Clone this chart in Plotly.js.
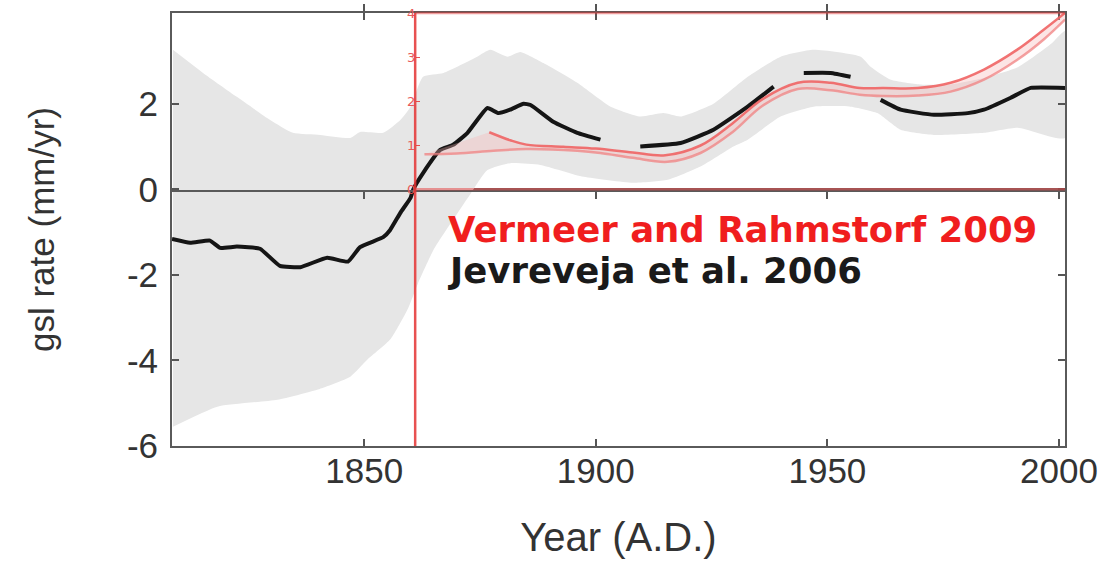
<!DOCTYPE html>
<html><head><meta charset="utf-8">
<script src="https://cdn.plot.ly/plotly-3.0.1.min.js"></script>
<style>html,body{margin:0;padding:0;background:#fff}#chart{width:1106px;height:563px}</style>
</head><body><div id="chart"></div>
<script>
// Jevrejeva et al. 2006 — uncertainty band (mm/yr)
const bandUpperYears = [1808.7,1815.2,1822.5,1829.7,1834.6,1840.5,1847,1849.1,1854.1,1857.8,1860,1862.7,1867.1,1874.4,1877.2,1880.9,1883.7,1888.7,1896,1903.2,1909.6,1914.6,1918.3,1925.4,1932.8,1939.9,1947,1957.2,1959.4,1963.7,1970,1976.6,1983.8,1991.1,1998.3,2001.3];
const bandUpperVals  = [3.26,2.72,2.16,1.62,1.32,1.27,1.2,1.34,1.32,1.62,1.93,2.63,2.72,3.1,3.26,3.1,3.21,2.95,2.49,1.93,1.7,1.78,1.7,2.0,2.63,3.1,3.26,3.1,2.86,2.56,2.45,2.45,2.6,2.85,3.4,3.7];
const bandLowerYears = [1808.7,1818.3,1831.3,1840,1847,1850.7,1855.7,1859.4,1861.6,1865,1870.2,1873,1876.6,1881.5,1888,1897.4,1908,1915.5,1922.6,1929.7,1932.8,1939.9,1947,1955,1960.8,1965.8,1973,1983.8,1991.1,2001.3];
const bandLowerVals  = [-5.55,-5.08,-4.92,-4.68,-4.38,-3.98,-3.5,-2.8,-2.2,-1.41,-0.55,-0.1,0.45,0.61,0.57,0.29,0.15,0.22,0.53,1.0,1.16,1.7,1.93,1.93,1.78,1.39,1.27,1.32,1.44,1.2];

// Jevrejeva et al. 2006 — gsl rate (mm/yr); null = where the curve is not visible
const jevYears = [1808.5,1812.4,1816.7,1818.9,1822.5,1827.5,1831.8,1836.2,1842,1846.5,1849.1,1854.1,1855.6,1857.8,1860,1860.6,1862.7,1866.4,1869.2,1872.3,1876.6,1879,1881.5,1884.4,1885.9,1890.8,1896,1901,1905,1909.6,1918.3,1925.4,1932.8,1938.4,1941,1944.9,1950.7,1955,1958,1961.5,1965.8,1973,1980.3,1983.8,1989.6,1993.9,2001.3];
const jevVals  = [-1.16,-1.25,-1.2,-1.37,-1.34,-1.39,-1.79,-1.82,-1.6,-1.69,-1.35,-1.12,-0.95,-0.55,-0.2,0,0.38,0.92,1.04,1.32,1.9,1.78,1.86,2.0,1.97,1.58,1.32,1.16,null,1.0,1.08,1.39,1.93,2.4,null,2.72,2.72,2.63,null,2.09,1.86,1.74,1.78,1.86,2.14,2.37,2.37];

// Vermeer and Rahmstorf 2009 — inset scale (mm/yr), two edges of the band
const vrUpperYears = [1877,1881.5,1885,1893,1900,1908,1915,1922.6,1929.5,1936,1943.6,1950.7,1957,1962,1969.5,1976.6,1983.8,1991,1996.7,2001.3];
const vrUpperVals  = [1.30,1.12,1.02,0.97,0.93,0.84,0.78,1.0,1.5,2.05,2.42,2.42,2.3,2.3,2.3,2.42,2.72,3.17,3.62,4.0];
const vrLowerYears = [1863,1870,1877.9,1885,1896,1901,1908,1915.5,1922.6,1929.5,1936,1943.6,1950.7,1957,1962,1969.5,1976.6,1983.8,1991,1996.7,2001.3];
const vrLowerVals  = [0.8,0.82,0.88,0.92,0.88,0.83,0.72,0.63,0.83,1.3,1.9,2.28,2.25,2.15,2.12,2.13,2.22,2.49,2.94,3.4,3.85];

const xTickVals = [1850,1900,1950,2000];
const yTickVals = [-6,-4,-2,0,2];
const yTickText = ['-6','-4','-2','0','2'];
const insetTickVals = [0,1,2,3,4];
const insetTickText = ['0','1','2','3','4'];

const X0 = 1808.5, X1 = 2001.3, INSET_X = 1861;

const bandX = bandUpperYears.concat(bandLowerYears.slice().reverse());
const bandY = bandUpperVals.concat(bandLowerVals.slice().reverse());

const traces = [
  {x: bandX, y: bandY, type: 'scatter', mode: 'lines', fill: 'toself',
   fillcolor: '#e6e6e6', line: {width: 0, color: 'rgba(0,0,0,0)', shape: 'spline', smoothing: 0.5}, hoverinfo: 'skip', showlegend: false},
  {x: jevYears, y: jevVals, type: 'scatter', mode: 'lines', connectgaps: false,
   line: {color: '#151515', width: 4, shape: 'spline', smoothing: 0.4}, showlegend: false},
  {x: vrLowerYears, y: vrLowerVals, yaxis: 'y2', type: 'scatter', mode: 'lines',
   line: {color: 'rgba(240,130,130,0.75)', width: 2.5, shape: 'spline'}, showlegend: false},
  {x: vrUpperYears, y: vrUpperVals, yaxis: 'y2', type: 'scatter', mode: 'lines', fill: 'tonexty',
   fillcolor: 'rgba(246,180,180,0.35)',
   line: {color: 'rgba(240,100,100,0.9)', width: 2.5, shape: 'spline'}, showlegend: false}
];

const redLine = 'rgba(228,50,50,0.85)';
const layout = {
  width: 1106, height: 563,
  margin: {l: 172, r: 41, t: 13, b: 117},
  paper_bgcolor: '#fff', plot_bgcolor: 'rgba(0,0,0,0)',
  font: {family: 'Liberation Sans, Arial, sans-serif', color: '#333'},
  xaxis: {range: [X0, X1], tickvals: xTickVals, ticks: 'inside', ticklen: 7, tickwidth: 2, tickcolor: '#555',
          showline: true, linecolor: '#5a5a5a', linewidth: 2, mirror: 'allticks', showgrid: false, zeroline: false,
          tickfont: {size: 35, color: '#333'}, ticklabelstandoff: -7,
          title: {text: 'Year (A.D.)', font: {size: 40, color: '#333'}, standoff: 34}},
  yaxis: {range: [-6, 4.12], tickvals: yTickVals, ticktext: yTickText, ticks: 'inside', ticklen: 7, tickwidth: 2, tickcolor: '#555',
          showline: true, linecolor: '#5a5a5a', linewidth: 2, mirror: 'allticks', showgrid: false,
          zeroline: true, zerolinecolor: '#6a6a6a', zerolinewidth: 2.5,
          tickfont: {size: 35, color: '#333'}, ticklabelstandoff: 5,
          title: {text: 'gsl rate (mm/yr)', font: {size: 35, color: '#333'}, standoff: 62}},
  yaxis2: {domain: [0.592, 1], range: [0, 4], anchor: 'free', position: (INSET_X - X0) / (X1 - X0),
           tickvals: insetTickVals, ticktext: insetTickText, ticks: 'inside', ticklen: 4, tickcolor: redLine,
           showline: false, showgrid: false, zeroline: false,
           tickfont: {size: 13, color: '#e85a5a', family: 'DejaVu Sans, sans-serif'}},
  shapes: [
    {type: 'line', xref: 'x', yref: 'paper', x0: INSET_X, x1: INSET_X, y0: 0, y1: 1, line: {color: redLine, width: 2.5}},
    {type: 'line', xref: 'x', yref: 'y', x0: INSET_X, x1: X1, y0: 0, y1: 0, line: {color: 'rgba(228,60,60,0.5)', width: 2.5}},
    {type: 'line', xref: 'x', yref: 'paper', x0: INSET_X, x1: X1, y0: 1, y1: 1, line: {color: 'rgba(228,60,60,0.5)', width: 2.5}}
  ],
  annotations: [
    {xref: 'x', yref: 'y', x: 1867.7, y: -0.95, xanchor: 'left', yanchor: 'middle', showarrow: false,
     text: '<b>Vermeer and Rahmstorf 2009</b>', font: {family: 'DejaVu Sans, Verdana, sans-serif', size: 35.5, color: '#f01e1e'}},
    {xref: 'x', yref: 'y', x: 1867.7, y: -1.9, xanchor: 'left', yanchor: 'middle', showarrow: false,
     text: '<b>Jevreveja et al. 2006</b>', font: {family: 'DejaVu Sans, Verdana, sans-serif', size: 35.5, color: '#1a1a1a'}}
  ]
};

Plotly.newPlot('chart', traces, layout, {displayModeBar: false, staticPlot: true});
</script>
</body></html>
